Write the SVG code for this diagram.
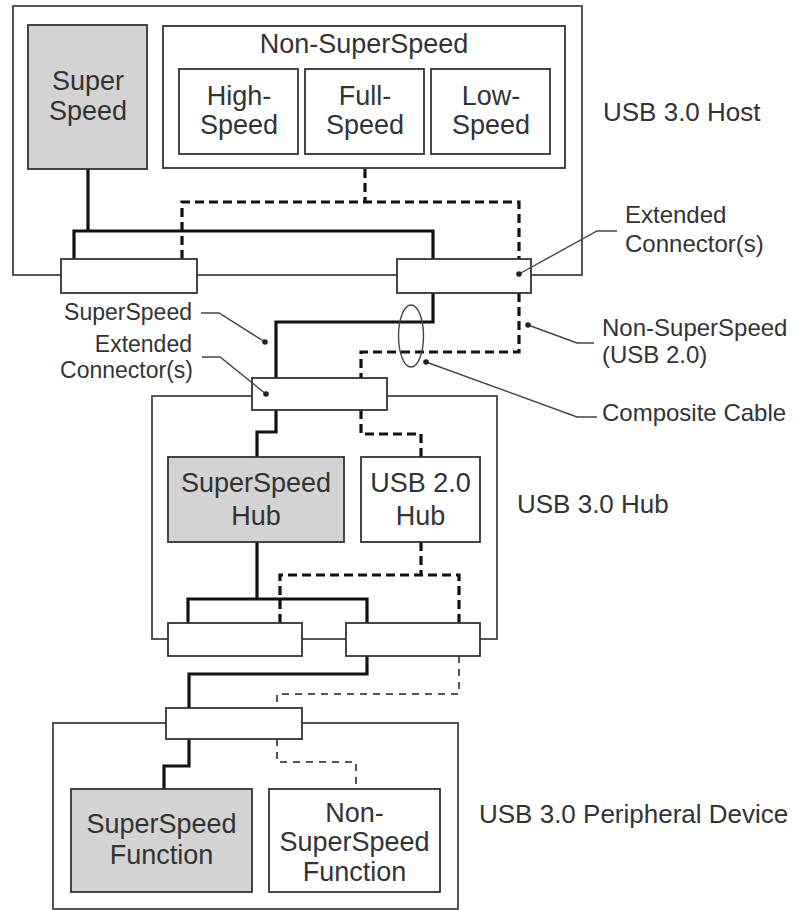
<svg xmlns="http://www.w3.org/2000/svg" width="799" height="910" viewBox="0 0 799 910">
<style>
.outer{fill:none;stroke:#444;stroke-width:1.8}
.box{fill:#fff;stroke:#333;stroke-width:1.8}
.gray{fill:#d3d3d3;stroke:#333;stroke-width:1.8}
.plug{fill:#fff;stroke:#333;stroke-width:1.8}
.ss{fill:none;stroke:#111;stroke-width:3.2;stroke-linejoin:miter}
.ns{fill:none;stroke:#111;stroke-width:3.2;stroke-dasharray:9 5}
.ns2{fill:none;stroke:#555;stroke-width:2;stroke-dasharray:7 6}
.call{fill:none;stroke:#444;stroke-width:1.4}
.dot{fill:#222}
text{font-family:"Liberation Sans",Arial,sans-serif;fill:#333}
.t{font-size:27px;text-anchor:middle}
.lab{font-size:26px}
.c{font-size:24px}
.ce{font-size:23px;text-anchor:end}
</style>
<rect width="799" height="910" fill="#fff"/>
<g id="host">
<rect class="outer" x="13" y="6" width="569" height="269"/>
</g>
<g id="hub">
<rect class="outer" x="152" y="396" width="345" height="243"/>
</g>
<g id="device">
<rect class="outer" x="53" y="723" width="405" height="186"/>
</g>
<g id="connectors">
<path class="ss" d="M88,169 V231 M74,259 V231 H433 V259"/>
<path class="ss" d="M433,293 V322 H276 V378"/>
<path class="ss" d="M276,410 V432 H257 V457"/>
<path class="ss" d="M257,542 V599 M188,623 V599 H367 V623"/>
<path class="ss" d="M367,656 V674 H189 V708"/>
<path class="ss" d="M189,739 V766 H164 V789"/>
<path class="ns" d="M365,169 V202 M182,259 V202 H519 V259"/>
<path class="ns" d="M519,293 V352 H361 V378"/>
<path class="ns" d="M361,410 V434 H421 V457"/>
<path class="ns" d="M421,542 V575 M280,623 V575 H459 V623"/>
<path class="ns2" d="M459,656 V694 H277 V708"/>
<path class="ns2" d="M277,739 V762 H356 V789"/>
</g>
<g id="host-superspeed">
<rect class="gray" x="28" y="25" width="119" height="144"/>
<text class="t" x="88" y="90">Super</text>
<text class="t" x="88" y="120">Speed</text>
</g>
<g id="host-nonsuperspeed">
<rect class="box" x="163" y="26" width="402" height="142"/>
<text class="t" x="364" y="53">Non-SuperSpeed</text>
</g>
<g id="high-speed">
<rect class="box" x="179" y="69" width="119" height="85"/>
<text class="t" x="239" y="105">High-</text>
<text class="t" x="239" y="134">Speed</text>
</g>
<g id="full-speed">
<rect class="box" x="305" y="69" width="119" height="85"/>
<text class="t" x="365" y="105">Full-</text>
<text class="t" x="365" y="134">Speed</text>
</g>
<g id="low-speed">
<rect class="box" x="431" y="69" width="119" height="85"/>
<text class="t" x="491" y="105">Low-</text>
<text class="t" x="491" y="134">Speed</text>
</g>
<g id="host-conn-left"><rect class="plug" x="61" y="259" width="136" height="34"/></g>
<g id="host-conn-right"><rect class="plug" x="397" y="259" width="134" height="34"/></g>
<g id="hub-conn-up"><rect class="plug" x="252" y="378" width="135" height="32"/></g>
<g id="superspeed-hub">
<rect class="gray" x="168" y="457" width="176" height="85"/>
<text class="t" x="256" y="492">SuperSpeed</text>
<text class="t" x="256" y="525">Hub</text>
</g>
<g id="usb2-hub">
<rect class="box" x="361" y="457" width="119" height="85"/>
<text class="t" x="420.5" y="492">USB 2.0</text>
<text class="t" x="420.5" y="525">Hub</text>
</g>
<g id="hub-conn-left"><rect class="plug" x="168" y="623" width="134" height="33"/></g>
<g id="hub-conn-right"><rect class="plug" x="346" y="623" width="134" height="33"/></g>
<g id="dev-conn"><rect class="plug" x="166" y="708" width="136" height="31"/></g>
<g id="superspeed-function">
<rect class="gray" x="71" y="789" width="181" height="103"/>
<text class="t" x="161.5" y="833">SuperSpeed</text>
<text class="t" x="161.5" y="864">Function</text>
</g>
<g id="nonsuperspeed-function">
<rect class="box" x="269" y="789" width="171" height="103"/>
<text class="t" x="354.5" y="822">Non-</text>
<text class="t" x="354.5" y="851">SuperSpeed</text>
<text class="t" x="354.5" y="881">Function</text>
</g>
<g id="labels">
<text class="lab" x="603" y="121">USB 3.0 Host</text>
<text class="lab" x="517" y="513">USB 3.0 Hub</text>
<text class="lab" x="479" y="823">USB 3.0 Peripheral Device</text>
</g>
<g id="callouts">
<ellipse class="call" cx="411" cy="336" rx="12.5" ry="31"/>
<path class="call" d="M519,274 L597,231 H617"/>
<circle class="dot" cx="519" cy="274" r="2.8"/>
<text class="c" x="625" y="223">Extended</text>
<text class="c" x="625" y="252">Connector(s)</text>
<path class="call" d="M528,325 L577,343 H594"/>
<circle class="dot" cx="528" cy="325" r="2.8"/>
<text class="c" x="602" y="336">Non-SuperSpeed</text>
<text class="c" x="602" y="363">(USB 2.0)</text>
<path class="call" d="M426,362 L577,417 H597"/>
<circle class="dot" cx="426" cy="362" r="2.8"/>
<text class="c" x="602" y="421">Composite Cable</text>
<path class="call" d="M201,313 H219 L265,342"/>
<circle class="dot" cx="265" cy="342" r="2.8"/>
<text class="ce" x="192" y="320">SuperSpeed</text>
<path class="call" d="M202,357 H220 L266,394"/>
<circle class="dot" cx="266" cy="394" r="2.8"/>
<text class="ce" x="192" y="352">Extended</text>
<text class="ce" x="193" y="378">Connector(s)</text>
</g>
</svg>
